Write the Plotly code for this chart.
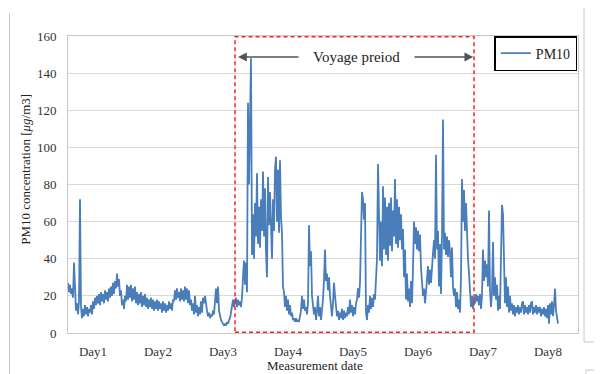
import plotly.graph_objects as go

# ---- data (PM10, one reading per sampling step, 65 steps per day) ----
samples_per_day = 65
start_day = 1 - 25 / 65  # series starts before the Day1 label

pm10_pre = [27, 22, 26, 21, 24, 19, 38, 20, 12, 16, 10, 17, 72, 14, 8, 13, 9, 15, 10, 14,
            9, 13, 11, 15, 10]
pm10_day1 = [17, 13, 19, 15, 20, 16, 21, 15,
             22, 17, 21, 16, 23, 18, 22, 17, 24, 19,
             25, 20, 27, 21, 28, 24, 32, 25, 29, 20,
             23, 15, 18, 13, 20, 17, 26, 18, 25, 19,
             26, 17, 24, 18, 25, 16, 22, 15, 21, 16,
             22, 14, 20, 15, 21, 14, 19, 13, 18, 14,
             19, 13, 18, 12, 17, 13, 18]
pm10_day2 = [12, 17, 13,
             16, 11, 17, 12, 16, 11, 15, 12, 17, 13,
             16, 12, 18, 17, 23, 18, 24, 19, 22, 17,
             24, 18, 23, 17, 25, 18, 24, 16, 23, 15,
             18, 12, 16, 10, 20, 11, 15, 9, 14, 10,
             17, 11, 19, 16, 20, 14, 12, 9, 11, 8,
             10, 9, 12, 10, 20, 24, 16, 25, 12, 9,
             7, 6]
pm10_day3 = [5, 4, 5, 4, 6, 5, 7, 8,
             11, 15, 18, 14, 17, 19, 14, 18, 15, 17,
             14, 19, 30, 39, 26, 38, 22, 124, 80, 118,
             148, 42, 64, 40, 70, 52, 86, 48, 68, 46,
             72, 55, 87, 52, 78, 44, 30, 84, 58, 76,
             62, 40, 72, 55, 88, 95, 60, 88, 54, 93,
             62, 54, 25, 22, 14, 20, 12]
pm10_day4 = [18, 10, 15,
             9, 11, 7, 8, 6, 8, 6, 7, 6, 9,
             12, 20, 13, 18, 12, 14, 10, 16, 58, 36,
             44, 20, 16, 10, 14, 7, 12, 20, 9, 14,
             7, 12, 18, 29, 45, 28, 32, 23, 30, 20,
             14, 9, 16, 27, 20, 14, 9, 12, 7, 11,
             8, 13, 7, 12, 8, 11, 9, 14, 10, 18,
             11, 15]
pm10_day5 = [9, 14, 10, 16, 18, 24, 19, 27,
             45, 76, 72, 61, 70, 11, 7, 15, 11, 20,
             13, 19, 14, 21, 18, 30, 40, 91, 55, 39,
             60, 36, 79, 45, 73, 42, 68, 39, 70, 47,
             73, 44, 66, 52, 83, 48, 72, 46, 68, 50,
             64, 45, 56, 30, 45, 18, 32, 17, 24, 14,
             28, 16, 35, 60, 48, 57, 45]
pm10_day6 = [55, 44, 53,
             35, 25, 20, 24, 16, 22, 28, 36, 26, 34,
             27, 38, 43, 50, 40, 96, 45, 55, 25, 48,
             21, 52, 115, 45, 54, 42, 52, 41, 50, 44,
             30, 46, 25, 20, 24, 14, 22, 13, 18, 11,
             30, 83, 60, 77, 55, 70, 50, 40, 32, 21,
             14, 20, 13, 19, 16, 21, 17, 20, 15, 21,
             13, 20]
pm10_day7 = [45, 28, 39, 30, 37, 25, 66, 23,
             14, 22, 49, 20, 30, 18, 26, 12, 20, 13,
             40, 69, 64, 37, 16, 30, 14, 25, 11, 20,
             12, 16, 10, 15, 9, 14, 11, 15, 10, 14,
             11, 16, 17, 10, 15, 11, 14, 10, 15, 11,
             16, 17, 10, 14, 11, 15, 10, 14, 11, 14,
             9, 13, 10, 14, 9, 13, 8]
pm10_day8 = [15, 5, 16, 10, 17, 9, 15, 24, 12, 8, 5]

day_ticks = [1, 2, 3, 4, 5, 6, 7, 8]
day_labels = ["Day1", "Day2", "Day3", "Day4", "Day5", "Day6", "Day7", "Day8"]
voyage_start, voyage_end = 3.185, 6.862

pm10 = (pm10_pre + pm10_day1 + pm10_day2 + pm10_day3 + pm10_day4 +
        pm10_day5 + pm10_day6 + pm10_day7 + pm10_day8)
t = [start_day + i / samples_per_day for i in range(len(pm10))]

FONT = "Liberation Serif, Times New Roman, serif"
fig = go.Figure()
fig.add_trace(go.Scatter(x=t, y=pm10, mode="lines", name="PM10",
                         line=dict(color="#4a7ebb", width=1.8)))

# voyage period box
fig.add_shape(type="rect", x0=voyage_start, x1=voyage_end, y0=0.4, y1=159.6,
              line=dict(color="#ff2020", width=1.5, dash="4px,3px"))
# arrows
arrow_y = 148.7
for tip, tail in [(3.231, 4.185), (6.85, 5.923)]:
    fig.add_annotation(x=tip, y=arrow_y, ax=tail, ay=arrow_y, xref="x", yref="y",
                       axref="x", ayref="y", text="", showarrow=True,
                       arrowhead=2, arrowsize=1.1, arrowwidth=1.6, arrowcolor="#555555")
fig.add_annotation(x=(4.185 + 5.923) / 2, y=arrow_y, text="Voyage preiod", showarrow=False,
                   xanchor="center", yanchor="middle",
                   font=dict(family=FONT, size=15, color="#222"))

# axis titles
fig.add_annotation(x=-0.084, y=0.55, xref="paper", yref="paper", textangle=-90,
                   xanchor="center", yanchor="middle",
                   text="PM10 concentration [<i>μg</i>/m3]", showarrow=False,
                   font=dict(family=FONT, size=13, color="#222"))
fig.add_annotation(x=0.484, y=-0.111, xref="paper", yref="paper",
                   xanchor="center", yanchor="middle",
                   text="Measurement date", showarrow=False,
                   font=dict(family=FONT, size=13, color="#222"))

# outer frame artifacts of the original screenshot
for x0, y0, x1, y1 in [(-0.1147, 1.077, -0.1147, -0.14), (1.0118, 1.13, 1.0118, -0.0303),
                       (1.0118, -0.0303, 1.06, -0.0303), (1.0157, -0.125, 1.06, -0.125),
                       (1.0157, -0.125, 1.0157, -0.14)]:
    fig.add_shape(type="line", xref="paper", yref="paper", x0=x0, y0=y0, x1=x1, y1=y1,
                  line=dict(color="#c8c8c8", width=1))

fig.update_layout(
    width=602, height=374,
    margin=dict(l=60, r=32, t=28, b=49, autoexpand=False),
    paper_bgcolor="white", plot_bgcolor="white",
    font=dict(family=FONT, size=13, color="#333"),
    showlegend=True,
    legend=dict(x=0.836, y=1.0, xanchor="left", yanchor="top",
                bordercolor="#000", borderwidth=1.5, bgcolor="white",
                itemwidth=30, valign="middle",
                font=dict(family=FONT, size=14, color="#222")),
    xaxis=dict(range=[1 - 25 / 65, 1 + 485 / 65], tickvals=day_ticks, ticktext=day_labels,
               showgrid=False, zeroline=False, showline=True, mirror=True, automargin=False,
               linecolor="#c8c8c8", linewidth=1, ticks="", ticklabelstandoff=6),
    yaxis=dict(range=[0, 160], dtick=20, showgrid=True, gridcolor="#d9d9d9", gridwidth=1,
               zeroline=False, showline=True, mirror=True, linecolor="#c8c8c8",
               automargin=False, ticks="", ticklabelstandoff=8),
)

fig.write_html("out.html")
